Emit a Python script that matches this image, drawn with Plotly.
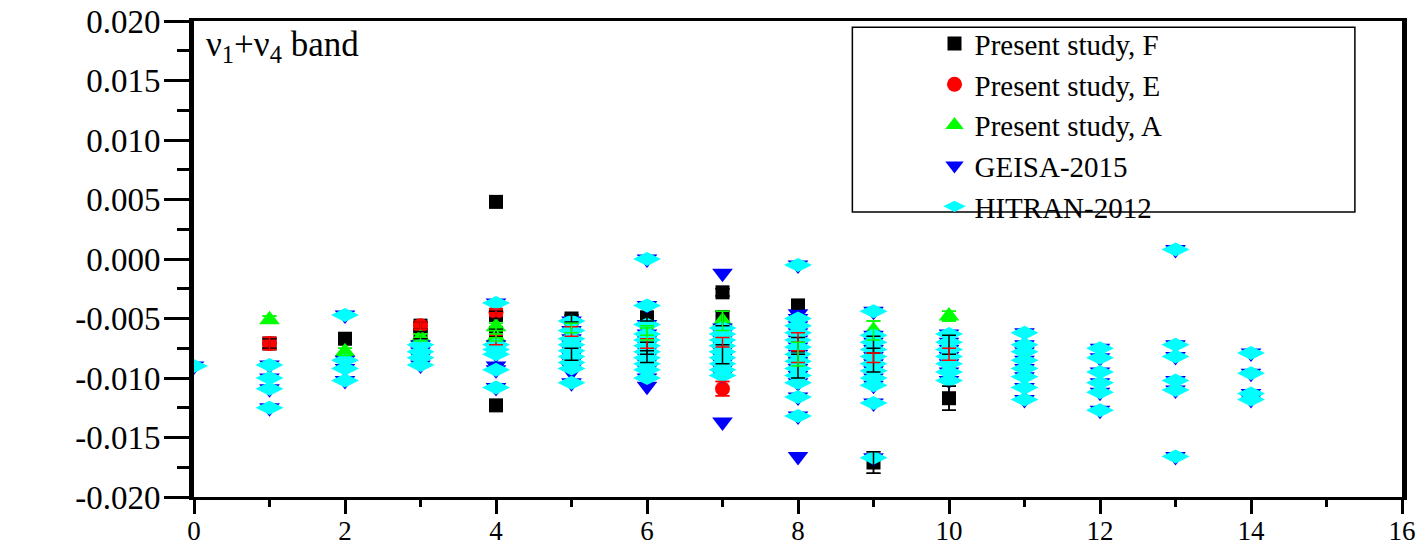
import plotly.graph_objects as go

# ---------------- data ----------------
f_x = [1, 2, 3, 3, 4, 4, 4, 4, 5, 5, 6, 6, 6, 7, 7, 7, 8, 8, 8, 9, 9, 9, 10, 10]
f_y = [-0.0071, -0.0067, -0.0056, -0.0064, 0.0048, -0.0047, -0.0062, -0.0123,
       -0.0050, -0.0080, -0.0049, -0.0075, -0.0082, -0.0028, -0.0050, -0.0080,
       -0.0039, -0.0072, -0.0090, -0.0171, -0.0072, -0.0085, -0.0117, -0.0072]
f_err = [0.0004, 0.0003, 0.0003, 0.0003, 0.0003, 0.0003, 0.0003, 0.0003,
         0.0003, 0.0005, 0.0003, 0.0005, 0.0005, 0.0003, 0.0006, 0.0008,
         0.0003, 0.0006, 0.0010, 0.0009, 0.0007, 0.0010, 0.0010, 0.0008]

e_x = [1, 3, 4, 4, 5, 6, 7, 7, 8, 8, 9, 10]
e_y = [-0.0071, -0.0056, -0.0045, -0.0068, -0.0061, -0.0071, -0.0070, -0.0109,
       -0.0066, -0.0082, -0.0083, -0.0080]
e_err = [0.0005, 0.0003, 0.0003, 0.0004, 0.0004, 0.0004, 0.0004, 0.0006,
         0.0004, 0.0005, 0.0004, 0.0005]

a_x = [1, 2, 3, 4, 4, 5, 6, 6, 7, 8, 9, 10]
a_y = [-0.0051, -0.0078, -0.0066, -0.0057, -0.0066, -0.0058, -0.0060, -0.0063,
       -0.0052, -0.0080, -0.0060, -0.0048]
a_err = [0.0003, 0.0003, 0.0003, 0.0003, 0.0003, 0.0004, 0.0004, 0.0005,
         0.0008, 0.0010, 0.0008, 0.0004]

hitran_x = [0,
            1, 1, 1, 1,
            2, 2, 2, 2,
            3, 3, 3, 3,
            4, 4, 4, 4, 4, 4,
            5, 5, 5, 5, 5, 5, 5, 5, 5,
            6, 6, 6, 6, 6, 6, 6, 6, 6, 6, 6,
            7, 7, 7, 7, 7, 7, 7, 7, 7,
            8, 8, 8, 8, 8, 8, 8, 8, 8, 8, 8, 8, 8,
            9, 9, 9, 9, 9, 9, 9, 9, 9, 9, 9,
            10, 10, 10, 10, 10, 10, 10,
            11, 11, 11, 11, 11, 11, 11, 11,
            12, 12, 12, 12, 12, 12,
            13, 13, 13, 13, 13, 13,
            14, 14, 14, 14]
hitran_y = [-0.0090,
            -0.0089, -0.0100, -0.0109, -0.0125,
            -0.0047, -0.0085, -0.0092, -0.0102,
            -0.0072, -0.0078, -0.0083, -0.0089,
            -0.0037, -0.0072, -0.0076, -0.0080, -0.0093, -0.0108,
            -0.0052, -0.0060, -0.0067, -0.0072, -0.0077, -0.0082, -0.0087, -0.0092, -0.0104,
            0.0000, -0.0039, -0.0055, -0.0063, -0.0068, -0.0073, -0.0078, -0.0083, -0.0088, -0.0093, -0.0100,
            -0.0058, -0.0063, -0.0068, -0.0073, -0.0078, -0.0083, -0.0088, -0.0093, -0.0098,
            -0.0005, -0.0050, -0.0056, -0.0062, -0.0068, -0.0074, -0.0080, -0.0086, -0.0092, -0.0098, -0.0104, -0.0116, -0.0132,
            -0.0044, -0.0064, -0.0070, -0.0076, -0.0082, -0.0088, -0.0094, -0.0100, -0.0106, -0.0121, -0.0167,
            -0.0063, -0.0070, -0.0076, -0.0082, -0.0088, -0.0095, -0.0102,
            -0.0062, -0.0072, -0.0078, -0.0085, -0.0092, -0.0099, -0.0108, -0.0118,
            -0.0075, -0.0083, -0.0095, -0.0104, -0.0112, -0.0127,
            0.0008, -0.0072, -0.0082, -0.0102, -0.0110, -0.0166,
            -0.0079, -0.0096, -0.0113, -0.0118]

geisa_extra_x = [4, 5, 6, 7, 7, 8, 8]
geisa_extra_y = [-0.0090, -0.0095, -0.0107, -0.0012, -0.0137, -0.0046, -0.0166]
geisa_x = hitran_x + geisa_extra_x
geisa_y = hitran_y + geisa_extra_y

x_tickvals = [0, 2, 4, 6, 8, 10, 12, 14, 16]
x_ticktext = ["0", "2", "4", "6", "8", "10", "12", "14", "16"]
y_tickvals = [0.020, 0.015, 0.010, 0.005, 0.000, -0.005, -0.010, -0.015, -0.020]
y_ticktext = ["0.020", "0.015", "0.010", "0.005", "0.000",
              "-0.005", "-0.010", "-0.015", "-0.020"]

FONT = "Liberation Serif, Times New Roman, serif"

fig = go.Figure()

def err(arr, color):
    return dict(type="data", array=arr, visible=True, color=color,
                thickness=1.5, width=7)

fig.add_trace(go.Scatter(x=f_x, y=f_y, mode="markers", name="Present study, F",
                         marker=dict(symbol="square", size=14, color="#000000"),
                         error_y=err(f_err, "#000000")))
fig.add_trace(go.Scatter(x=e_x, y=e_y, mode="markers", name="Present study, E",
                         marker=dict(symbol="circle", size=15, color="#FF0000"),
                         error_y=err(e_err, "#FF0000")))
fig.add_trace(go.Scatter(x=a_x, y=a_y, mode="markers", name="Present study, A",
                         marker=dict(symbol="triangle-up", size=18, color="#00FF00"),
                         error_y=err(a_err, "#00FF00")))
fig.add_trace(go.Scatter(x=geisa_x, y=geisa_y, mode="markers", name="GEISA-2015",
                         marker=dict(symbol="triangle-down", size=18, color="#0000FF")))
fig.add_trace(go.Scatter(x=hitran_x, y=hitran_y, mode="markers", name="HITRAN-2012",
                         marker=dict(symbol="diamond-wide", size=20, color="#00FFFF")))

# error bars drawn over the stacks (as in the original)
for xs, ys, es, c in [(f_x, f_y, f_err, "#000000"), (e_x, e_y, e_err, "#FF0000"),
                      (a_x, a_y, a_err, "#00FF00")]:
    fig.add_trace(go.Scatter(x=xs, y=ys, mode="markers", showlegend=False,
                             hoverinfo="skip",
                             marker=dict(size=1, color=c, opacity=0),
                             error_y=err(es, c)))

fig.update_layout(
    width=1422, height=547,
    margin=dict(l=194, r=20, t=21, b=50, autoexpand=False),
    paper_bgcolor="white", plot_bgcolor="white",
    font=dict(family=FONT, color="black", size=26),
    showlegend=True,
    legend=dict(x=0.613, y=1.006, xanchor="left", yanchor="top",
                bgcolor="rgba(0,0,0,0)", borderwidth=0,
                font=dict(family=FONT, size=29, color="black"),
                tracegroupgap=0, itemsizing="trace"),
    shapes=[dict(type="rect", xref="paper", yref="paper",
                 x0=0.545, x1=0.961, y0=0.599, y1=0.987,
                 line=dict(color="black", width=1.5), fillcolor="rgba(0,0,0,0)")],
    annotations=[dict(xref="paper", yref="paper", x=0.008, y=0.995,
                      xanchor="left", yanchor="top", showarrow=False,
                      text="ν<sub>1</sub>+ν<sub>4</sub> band",
                      font=dict(family=FONT, size=35, color="black"))],
)

fig.update_xaxes(range=[0, 16], tickvals=x_tickvals, ticktext=x_ticktext,
                 automargin=False, ticklabeloverflow="allow", ticklabelstandoff=-6,
                 ticks="outside", ticklen=14, tickwidth=3, tickcolor="black",
                 minor=dict(dtick=1, ticks="outside", ticklen=7, tickwidth=3,
                            tickcolor="black"),
                 showline=True, linewidth=3, linecolor="black", mirror=True,
                 showgrid=False, zeroline=False,
                 tickfont=dict(family=FONT, size=27, color="black"))
fig.update_yaxes(range=[-0.020, 0.020], tickvals=y_tickvals, ticktext=y_ticktext,
                 automargin=False, ticklabeloverflow="allow", ticklabelstandoff=-3,
                 ticks="outside", ticklen=25, tickwidth=3, tickcolor="black",
                 minor=dict(dtick=0.0025, tick0=0, ticks="outside", ticklen=12,
                            tickwidth=3, tickcolor="black"),
                 showline=True, linewidth=5, linecolor="black", mirror=True,
                 showgrid=False, zeroline=False,
                 tickfont=dict(family=FONT, size=33, color="black"))

# remove the browser's default 8px body margin so the figure fills the window
fig.write_html("out.html",
               config={"displayModeBar": False},
               post_script="document.body.style.margin='0px';"
                           "document.body.style.overflow='hidden';")
